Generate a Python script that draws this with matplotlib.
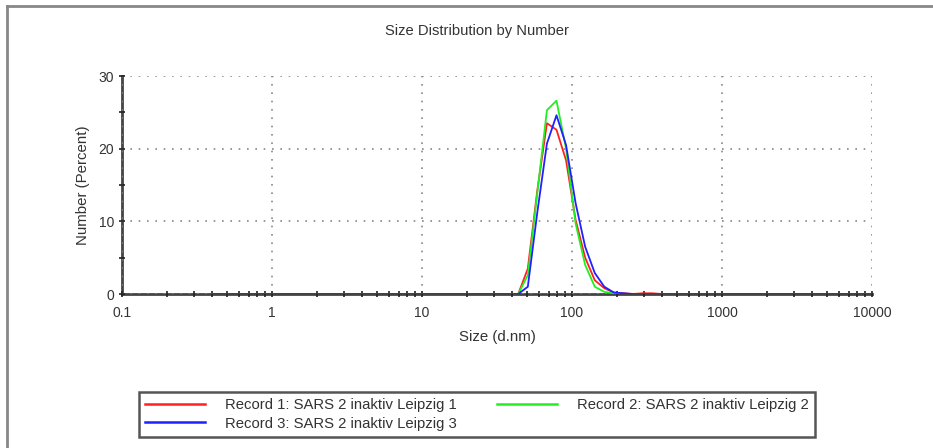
import matplotlib
matplotlib.use("Agg")
from matplotlib import pyplot as plt
from matplotlib.lines import Line2D
from matplotlib.ticker import FixedLocator, LogLocator, NullFormatter

plt.rcParams['font.family'] = ['Liberation Sans', 'DejaVu Sans']

# size classes (d.nm) where the curves change, values in percent by number
sizes = [0.4, 37.84, 43.82, 50.75, 58.77, 68.06, 78.82, 91.28, 105.7, 122.4,
         141.8, 164.2, 190.1, 220.2, 255.0, 295.3, 342.0, 396.1, 10000]
record1 = [0, 0, 0, 3.5, 14.3, 23.5, 22.6, 18.4, 10.2, 5.0,
           1.9, 0.8, 0.2, 0.1, 0, 0.1, 0.1, 0, 0]
record2 = [0, 0, 0, 2.6, 14.0, 25.3, 26.6, 20.0, 9.7, 4.0,
           1.0, 0.3, 0.1, 0, 0, 0, 0, 0, 0]
record3 = [0, 0, 0, 1.0, 11.3, 20.7, 24.6, 20.5, 12.5, 6.5,
           2.9, 1.0, 0.2, 0.1, 0, 0, 0, 0, 0]

labels = ['Record 1: SARS 2 inaktiv Leipzig 1',
          'Record 2: SARS 2 inaktiv Leipzig 2',
          'Record 3: SARS 2 inaktiv Leipzig 3']
x_ticks = [0.1, 1, 10, 100, 1000, 10000]
x_ticklabels = ['0.1', '1', '10', '100', '1000', '10000']
y_ticks = [0, 10, 20, 30]

W, H = 933, 448
fig = plt.figure(figsize=(W / 100, H / 100), dpi=100)
ax = fig.add_axes([122 / W, 1 - 294 / H, 750 / W, 218 / H])

r, = ax.plot(sizes, record1, color='#ff2020', lw=1.3)
g, = ax.plot(sizes, record2, color='#22ee22', lw=1.3)
b, = ax.plot(sizes, record3, color='#2020ff', lw=1.3)

ax.set_xscale('log')
ax.set_xlim(0.1, 10000)
ax.set_ylim(0, 30)
ax.set_xticks(x_ticks)
ax.set_xticklabels(x_ticklabels)
ax.xaxis.set_minor_locator(LogLocator(base=10, subs=range(2, 10)))
ax.xaxis.set_minor_formatter(NullFormatter())
ax.set_yticks(y_ticks)
ax.yaxis.set_minor_locator(FixedLocator([5, 15, 25]))

for s in ['top', 'right']:
    ax.spines[s].set_visible(False)
for s in ['left', 'bottom']:
    ax.spines[s].set_color('#444444')
    ax.spines[s].set_linewidth(2)
    ax.spines[s].set_zorder(0.5)

ax.tick_params(which='both', direction='inout', color='#222222', width=1.2,
               labelsize=10, labelcolor='#333333')
ax.tick_params(which='major', length=5)
ax.tick_params(which='minor', length=4)
ax.tick_params(axis='x', pad=6)
ax.tick_params(axis='y', pad=3)

ax.grid(True, which='major', color='#888888', linestyle=(0, (1, 4)), lw=1.2)
ax.set_axisbelow(True)

ax.set_xlabel('Size (d.nm)', fontsize=10.8, color='#333333', labelpad=7)
ax.set_ylabel('Number (Percent)', fontsize=10.8, color='#333333', labelpad=6)
fig.text(477 / W, 1 - 31 / H, 'Size Distribution by Number', fontsize=10.6,
         color='#333333', ha='center', va='center')

leg = fig.legend([r, b, g], [labels[0], labels[2], labels[1]], ncol=2,
                 loc='upper left', bbox_to_anchor=(139 / W, 1 - 392 / H),
                 fontsize=10.7, frameon=True, fancybox=False, framealpha=1,
                 edgecolor='#555555', borderpad=0.42, labelspacing=0.3,
                 handlelength=4.0, handletextpad=1.35, columnspacing=2.75,
                 borderaxespad=0)
leg.get_frame().set_linewidth(1.8)
for line in leg.get_lines():
    line.set_linewidth(1.8)
for t in leg.get_texts():
    t.set_color('#333333')

# outer frame (top and left edges only are visible)
fig.add_artist(Line2D([7 / W, 7 / W], [0, 1 - 6 / H], transform=fig.transFigure,
                      color='#888888', lw=2))
fig.add_artist(Line2D([7 / W, 1], [1 - 6 / H, 1 - 6 / H], transform=fig.transFigure,
                      color='#888888', lw=2))

fig.savefig('out.png', dpi=100)
